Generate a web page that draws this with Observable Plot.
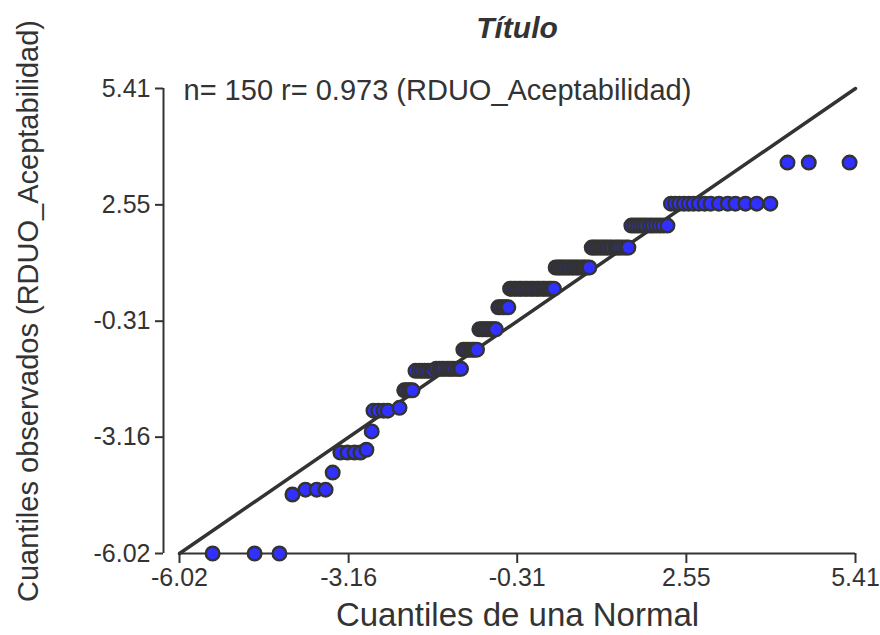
<!DOCTYPE html>
<html>
<head>
<meta charset="utf-8">
<script src="https://cdn.jsdelivr.net/npm/d3@7"></script>
<script src="https://cdn.jsdelivr.net/npm/@observablehq/plot@0.6"></script>
<style>
  html, body { margin: 0; padding: 0; background: #fff; }
  #wrap { position: relative; width: 880px; height: 635px; padding-top: 50px; box-sizing: border-box; font-family: "Liberation Sans", Arial, sans-serif; }
  #title { position: absolute; top: 13px; left: 179px; width: 676px; text-align: center; font-size: 30px; line-height: 30px; font-weight: bold; font-style: italic; color: #333; }
</style>
</head>
<body>
<div id="wrap"><div id="title"></div><div id="chart"></div></div>
<script>
const titleText = "Título";
const xLabel = "Cuantiles de una Normal";
const yLabel = "Cuantiles observados (RDUO_Aceptabilidad)";
const annotation = "n= 150 r= 0.973 (RDUO_Aceptabilidad)";
const axisTicks = [-6.02, -3.16, -0.31, 2.55, 5.41];
const tickLabels = ["-6.02", "-3.16", "-0.31", "2.55", "5.41"];
const axisDomain = [-6.02, 5.41];
const refLineX = [-6.02, 5.41];
const refLineY = [-6.02, 5.41];

// theoretical normal quantiles (x), in plotting order
const xNormal = [
  -5.46, -4.75, -4.33,
  -4.11,
  -3.89, -3.70, -3.55,
  -3.43,
  -3.30, -3.18, -3.06, -2.96, -2.86,
  -2.77,
  -2.74, -2.66, -2.57, -2.50, -2.30,
  -2.22, -2.19, -2.15, -2.12, -2.08,
  -2.03, -1.97, -1.92, -1.87, -1.82, -1.77, -1.73, -1.68, -1.63, -1.59, -1.55, -1.50, -1.46, -1.42, -1.38, -1.33, -1.29, -1.26,
  -1.22, -1.18, -1.14, -1.10, -1.06, -1.03, -0.99,
  -0.95, -0.91, -0.88, -0.84, -0.81, -0.77, -0.74, -0.70, -0.67,
  -0.63, -0.60, -0.56, -0.53, -0.49, -0.46,
  -0.43, -0.40, -0.36, -0.33, -0.29, -0.26, -0.23, -0.19, -0.16, -0.13, -0.09, -0.06, -0.03, 0.01, 0.04, 0.07, 0.11, 0.14, 0.17, 0.21, 0.24, 0.27, 0.31,
  0.34, 0.38, 0.41, 0.44, 0.48, 0.51, 0.55, 0.58, 0.62, 0.65, 0.69, 0.72, 0.76, 0.80, 0.83, 0.87, 0.91,
  0.95, 0.98, 1.02, 1.06, 1.10, 1.14, 1.18, 1.22, 1.26, 1.30, 1.35, 1.39, 1.43, 1.48, 1.53, 1.57,
  1.62, 1.67, 1.72, 1.77, 1.82, 1.87, 1.93, 1.98, 2.04, 2.10, 2.16, 2.23,
  2.29, 2.36, 2.43, 2.51, 2.59, 2.67, 2.76, 2.86, 2.96, 3.10, 3.25, 3.38, 3.55, 3.74, 3.97,
  4.26, 4.62, 5.31
];

const yObs = [
  -6.02, -6.02, -6.02,
  -4.57,
  -4.45, -4.45, -4.45,
  -4.03,
  -3.54, -3.54, -3.54, -3.54, -3.47,
  -3.02,
  -2.51, -2.51, -2.51, -2.51, -2.44,
  -2.01, -2.01, -2.01, -2.01, -2.01,
  -1.53, -1.53, -1.53, -1.53, -1.53, -1.53, -1.53, -1.48, -1.48, -1.48, -1.48, -1.48, -1.48, -1.48, -1.48, -1.48, -1.48, -1.48,
  -1.01, -1.01, -1.01, -1.01, -1.01, -1.01, -1.01,
  -0.51, -0.51, -0.51, -0.51, -0.51, -0.51, -0.51, -0.51, -0.51,
  0.03, 0.03, 0.03, 0.03, 0.03, 0.03,
  0.49, 0.49, 0.49, 0.49, 0.49, 0.49, 0.49, 0.49, 0.49, 0.49, 0.49, 0.49, 0.49, 0.49, 0.49, 0.49, 0.49, 0.49, 0.49, 0.49, 0.49, 0.49, 0.49,
  1.01, 1.01, 1.01, 1.01, 1.01, 1.01, 1.01, 1.01, 1.01, 1.01, 1.01, 1.01, 1.01, 1.01, 1.01, 1.01, 1.01,
  1.50, 1.50, 1.50, 1.50, 1.50, 1.50, 1.50, 1.50, 1.50, 1.50, 1.50, 1.50, 1.50, 1.50, 1.50, 1.50,
  2.04, 2.04, 2.04, 2.04, 2.04, 2.04, 2.04, 2.04, 2.04, 2.04, 2.04, 2.04,
  2.58, 2.58, 2.58, 2.58, 2.58, 2.58, 2.58, 2.58, 2.58, 2.58, 2.58, 2.58, 2.58, 2.58, 2.58,
  3.59, 3.59, 3.59
];

const points = xNormal.map((x, i) => ({x, y: yObs[i]}));
const refLine = refLineX.map((x, i) => ({x, y: refLineY[i]}));
const fmt = d => tickLabels[axisTicks.indexOf(d)];

document.getElementById("title").textContent = titleText;

const ink = "#333333";
const chart = Plot.plot({
  width: 880,
  height: 585,
  marginLeft: 179,
  marginRight: 25,
  marginTop: 38,
  marginBottom: 82,
  style: {fontFamily: "'Liberation Sans', Arial, sans-serif", color: ink, background: "#fff", overflow: "visible"},
  x: {domain: axisDomain},
  y: {domain: axisDomain},
  marks: [
    Plot.ruleY([axisDomain[0]], {x1: axisDomain[0], x2: axisDomain[1], stroke: ink, strokeWidth: 2}),
    Plot.ruleX([axisDomain[0]], {y1: axisDomain[0], y2: axisDomain[1], dx: -16, stroke: ink, strokeWidth: 2}),
    Plot.axisX({ticks: axisTicks, tickFormat: fmt, tickSize: 10, tickPadding: 5, fontSize: 25, strokeWidth: 2, label: null, fill: ink, stroke: ink}),
    Plot.axisY({ticks: axisTicks, tickFormat: fmt, tickSize: 8, tickPadding: 5, fontSize: 25, strokeWidth: 2, dx: -16, label: null, fill: ink, stroke: ink}),
    Plot.line(refLine, {x: "x", y: "y", stroke: ink, strokeWidth: 3.5}),
    Plot.dot(points, {x: "x", y: "y", r: 6.8, fill: "#3030ff", stroke: ink, strokeWidth: 2.4}),
    Plot.text([annotation], {frameAnchor: "top-left", textAnchor: "start", lineAnchor: "top", dx: 4, dy: -9, fontSize: 29, fill: ink}),
    Plot.text([xLabel], {frameAnchor: "bottom", lineAnchor: "middle", dy: 62, fontSize: 33, fill: ink}),
    Plot.text([yLabel], {frameAnchor: "left", textAnchor: "middle", lineAnchor: "middle", rotate: -90, dx: -151, dy: -10, fontSize: 29, fill: ink})
  ]
});
document.getElementById("chart").appendChild(chart);
</script>
</body>
</html>
